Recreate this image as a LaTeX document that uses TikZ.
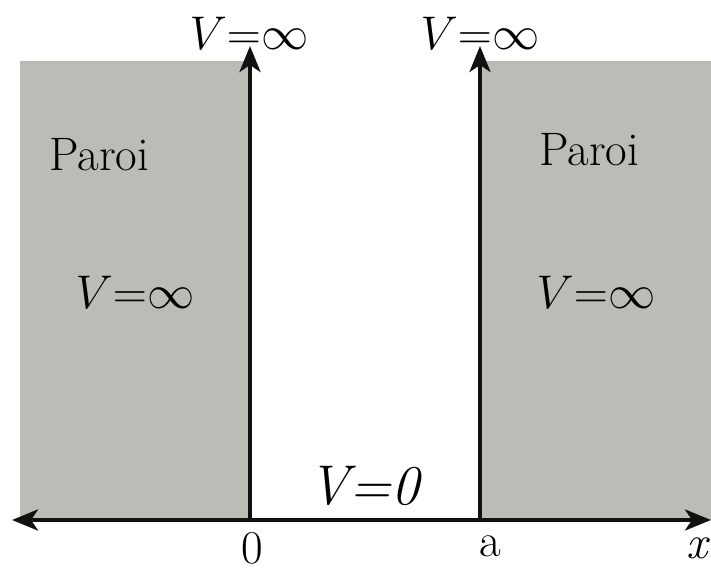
\documentclass[tikz,border=0pt]{standalone}
\usetikzlibrary{arrows.meta}
\definecolor{wallgray}{RGB}{186,188,181}
\definecolor{inkblack}{HTML}{111111}
\newcommand{\vinf}{\scalebox{1.9}{\Huge$V{=}\infty$}}

\begin{document}
\begin{tikzpicture}[
  x=1pt, y=1pt,
  every node/.style={inner sep=0pt},
  wall/.style={fill=wallgray, draw=none},
  ax/.style={line width=4pt, color=inkblack},
  tip/.style={-{Stealth[length=26pt, width=21pt, inset=7pt]}},
  lab/.style={font=\fontsize{47}{52}\selectfont},
  pot/.style={font=\fontsize{56}{60}\selectfont},
]
  \useasboundingbox (0,0) rectangle (711,572);

  % walls
  \fill[wall] (20,52) rectangle (250,511);
  \fill[wall] (480,52) rectangle (711,511);

  % axis points
  \coordinate (xl) at (12,52);
  \coordinate (xr) at (711,52);
  \coordinate (o) at (250,52);
  \coordinate (a) at (480,52);
  \coordinate (ot) at (250,526);
  \coordinate (at) at (480,526);

  \node (vtopl) at (249,539) {\vinf};
  \node (vtopr) at (480,539) {\vinf};
  \node[lab] (parl) at (99,417) {Paroi};
  \node[lab] (parr) at (589,422) {Paroi};
  \node (vwl) at (135,280) {\vinf};
  \node (vwr) at (596,280) {\vinf};
  \node[pot] (vin) at (364,86) {\itshape V=0};
  \node[lab] (zero) at (252,24) {0};
  \node[lab] (alab) at (490,26) {a};
  \node[lab] (xlab) at (697,24) {\itshape x};

  \draw[ax, {Stealth[length=26pt, width=21pt, inset=7pt]}-{Stealth[length=26pt, width=21pt, inset=7pt]}] (xl) -- (xr);
  \draw[ax, tip] (o) -- (ot);
  \draw[ax, tip] (a) -- (at);
\end{tikzpicture}
\end{document}
